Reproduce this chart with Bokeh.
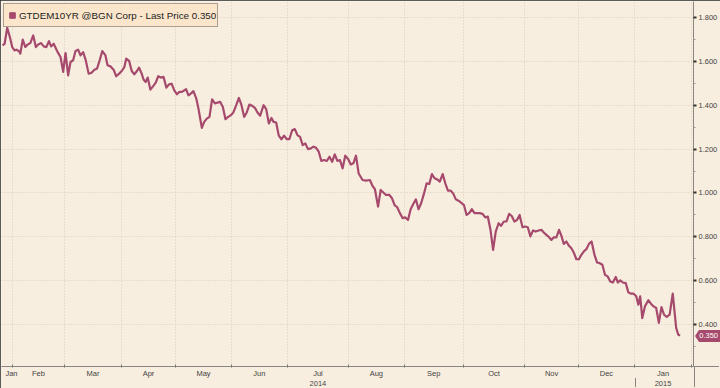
from bokeh.plotting import figure
from bokeh.layouts import column
from bokeh.models import (Range1d, FixedTicker, CustomJSTickFormatter, NumeralTickFormatter,
                          Legend, LegendItem, LinearAxis, Div)
from bokeh.embed import file_html
from bokeh.resources import INLINE

# ---------------- data ----------------
series_name = "GTDEM10YR @BGN Corp - Last Price 0.350"
last_price = 0.350

# trading-day position (0 = first session shown) and German 10Y yield
trade_day = [
    0.0, 0.8, 1.8, 2.8, 3.7, 4.6, 5.3, 6.2, 6.8, 7.7, 8.7, 9.6, 10.6, 11.7, 12.7, 13.6, 14.7, 15.7, 16.7, 17.7,
    18.5, 19.5, 20.2, 21.0, 22.1, 23.1, 24.0, 25.0, 25.9, 26.9, 27.8, 28.8, 29.7, 30.7, 31.7, 32.8, 33.8, 35.0, 36.0, 37.0,
    38.0, 39.2, 40.0, 41.1, 42.3, 43.3, 44.4, 45.4, 46.4, 47.1, 48.2, 49.2, 50.2, 51.2, 52.0, 53.0, 53.7, 54.5, 55.3, 56.3,
    57.3, 58.3, 59.3, 60.3, 61.3, 62.4, 63.4, 64.4, 65.4, 66.4, 67.4,
    68.3, 69.9, 70.8, 71.7, 72.7, 73.8, 74.6, 75.9, 76.8, 77.8, 78.8, 79.8, 80.9, 81.9, 82.9, 83.9, 84.9, 85.9, 87.0, 87.9,
    89.0, 90.0, 91.0, 92.0, 93.0, 94.0, 95.1, 96.1, 97.1, 98.1, 99.4, 100.4, 101.4, 102.4, 103.2, 104.2, 105.2, 106.2, 107.2, 108.3,
    109.2, 110.3, 111.3, 112.3, 113.3, 114.3, 115.3, 116.3, 117.4, 118.4, 119.4, 120.4, 121.4, 122.4, 123.5, 124.5, 125.5, 126.5, 127.5, 128.5,
    129.5, 130.5, 131.6, 132.6, 133.6, 134.6, 135.6,
    137.1, 138.4, 139.9, 140.9, 141.8, 143.0, 144.0, 145.0, 146.0, 147.3, 148.3, 149.3, 150.3, 151.3, 152.4, 153.3, 154.4, 155.4, 156.4, 157.4,
    158.4, 159.4, 160.5, 161.5, 162.5, 163.5, 164.5, 165.5, 166.5, 167.6, 168.6, 169.6, 170.6, 171.6, 172.6, 173.6, 174.6, 175.7, 176.7, 177.7,
    178.7, 179.7, 180.7, 181.7, 182.8, 183.8, 184.8, 185.8, 186.8, 187.8, 188.9, 189.8, 190.9, 191.9, 192.9, 193.9, 194.9, 195.9, 196.9, 198.0,
    199.0, 200.0, 201.0, 202.0, 203.0, 204.1,
    205.2, 206.1, 207.1, 208.1, 209.0, 209.9, 210.9, 211.9, 212.8, 213.7, 214.7, 215.7, 216.6, 217.5, 218.5, 219.5, 220.4, 221.3, 222.3, 223.3,
    224.3, 225.4, 226.4, 227.4, 228.4, 229.4, 230.4, 231.4, 232.4, 233.5, 234.3, 235.2, 236.2, 237.3, 238.3, 239.3, 240.3, 241.3, 242.1, 242.8,
    243.6, 244.6, 245.9, 246.9, 247.9, 248.9, 249.9, 250.9, 251.9, 252.9, 254.0, 255.2, 256.5, 257.3, 258.0,
]
yield_pct = [
    1.673, 1.680, 1.753, 1.711, 1.665, 1.650, 1.653, 1.647, 1.635, 1.699, 1.665, 1.677, 1.683, 1.718, 1.665, 1.677, 1.683, 1.668, 1.665, 1.692,
    1.668, 1.680, 1.662, 1.642, 1.620, 1.552, 1.638, 1.536, 1.597, 1.605, 1.647, 1.653, 1.627, 1.642, 1.605, 1.544, 1.547, 1.562, 1.567, 1.605,
    1.647, 1.627, 1.582, 1.577, 1.562, 1.532, 1.544, 1.556, 1.574, 1.612, 1.602, 1.556, 1.541, 1.556, 1.571, 1.544, 1.517, 1.506, 1.526, 1.471,
    1.486, 1.502, 1.532, 1.526, 1.529, 1.480, 1.495, 1.498, 1.468, 1.450, 1.461,
    1.461, 1.473, 1.445, 1.453, 1.464, 1.430, 1.385, 1.297, 1.324, 1.339, 1.347, 1.427, 1.408, 1.412, 1.415, 1.392, 1.336, 1.347, 1.355, 1.367,
    1.400, 1.433, 1.400, 1.347, 1.367, 1.403, 1.397, 1.388, 1.367, 1.352, 1.400, 1.382, 1.317, 1.342, 1.324, 1.321, 1.261, 1.245, 1.261, 1.245,
    1.245, 1.286, 1.291, 1.264, 1.256, 1.218, 1.226, 1.200, 1.203, 1.211, 1.206, 1.188, 1.146, 1.150, 1.146, 1.165, 1.142, 1.176, 1.146, 1.150,
    1.112, 1.170, 1.155, 1.130, 1.135, 1.170, 1.089,
    1.059, 1.056, 1.059, 1.032, 1.017, 0.938, 1.014, 1.002, 0.991, 0.991, 0.976, 0.945, 0.935, 0.908, 0.885, 0.889, 0.877, 0.926, 0.950, 0.971,
    0.926, 0.953, 0.998, 1.044, 1.041, 1.086, 1.067, 1.062, 1.052, 1.086, 1.044, 1.011, 1.011, 0.998, 0.971, 0.965, 0.956, 0.945, 0.900, 0.908,
    0.926, 0.908, 0.908, 0.908, 0.905, 0.889, 0.892, 0.832, 0.741, 0.824, 0.862, 0.850, 0.870, 0.870, 0.905, 0.895, 0.870, 0.877, 0.900, 0.844,
    0.847, 0.844, 0.802, 0.829, 0.824, 0.829,
    0.832, 0.820, 0.809, 0.798, 0.786, 0.798, 0.798, 0.832, 0.805, 0.768, 0.779, 0.759, 0.748, 0.729, 0.698, 0.698, 0.718, 0.733, 0.744, 0.768,
    0.779, 0.718, 0.683, 0.680, 0.673, 0.627, 0.620, 0.597, 0.592, 0.617, 0.592, 0.602, 0.592, 0.589, 0.547, 0.541, 0.541, 0.529, 0.491, 0.529,
    0.430, 0.483, 0.511, 0.495, 0.483, 0.476, 0.408, 0.480, 0.445, 0.435, 0.445, 0.541, 0.385, 0.354, 0.350,
]

# month boundaries (trading-day position of the 1st of Feb 2014 ... Feb 2015)
month_starts = [3.7, 23.7, 45.2, 66.0, 87.1, 108.5, 131.7, 153.0, 175.4, 198.9, 219.2, 240.7, 262.3]
month_names = ["Jan", "Feb", "Mar", "Apr", "May", "Jun", "Jul", "Aug", "Sep", "Oct", "Nov", "Dec", "Jan"]
first_month_label_pos = 3.4
year_labels = ["2014", "2015"]
year_label_month = [6, 12]          # index into month_names under which the year is written
year_break_month = 11               # index into month_starts (1 Jan 2015)

y_major = [0.4, 0.6, 0.8, 1.0, 1.2, 1.4, 1.6, 1.8]
y_minor = [0.3, 0.5, 0.7, 0.9, 1.1, 1.3, 1.5, 1.7]

# ---------------- style / layout ----------------
BG = "#F8EEDF"
LINE = "#A64A6D"
GRID = "#D9CCB8"
AX = "#8A8580"
TXT = "#444444"
FONT = "Liberation Sans"
W, H = 720, 388
F_LEFT, F_TOP, F_RIGHT, F_BOTTOM = 1, 1, 694, 367

x0, x1 = -0.38, 263.1
y0, y1 = 0.2091, 1.8727


def x_px(t):
    return F_LEFT + (t - x0) / (x1 - x0) * (F_RIGHT - F_LEFT)


def y_px(v):
    return F_TOP + (y1 - v) / (y1 - y0) * (F_BOTTOM - F_TOP)


label_pos = [first_month_label_pos] + [(a + b) / 2 for a, b in zip(month_starts[:-1], month_starts[1:])]
year_pos = [label_pos[i] for i in year_label_month]

LOOKUP = """
let best = 0, d = 1e9;
for (let i = 0; i < pos.length; i++) { const dd = Math.abs(pos[i] - tick); if (dd < d) { d = dd; best = i; } }
return names[best];
"""

p = figure(width=W, height=H, x_range=Range1d(x0, x1), y_range=Range1d(y0, y1),
           y_axis_location="right", output_backend="svg", toolbar_location=None,
           min_border_left=F_LEFT, min_border_top=F_TOP, min_border_right=W - F_RIGHT,
           min_border_bottom=H - F_BOTTOM,
           background_fill_color=BG, border_fill_color=BG, outline_line_color=None)
p.styles = {"outline": "1px solid #2a2a2a", "outline-offset": "-1px"}

# grids
p.xgrid.ticker = FixedTicker(ticks=month_starts)
p.ygrid.ticker = FixedTicker(ticks=y_major)
for g in (p.xgrid[0], p.ygrid[0]):
    g.grid_line_color = GRID
    g.grid_line_dash = "1 2"
    g.grid_line_width = 1

# bottom axis: month names centred in each month, ticks at month boundaries
xa = p.xaxis[0]
xa.ticker = FixedTicker(ticks=label_pos, minor_ticks=month_starts)
xa.formatter = CustomJSTickFormatter(args=dict(pos=label_pos, names=month_names), code=LOOKUP)
xa.major_tick_in = 0
xa.major_tick_out = 0
xa.minor_tick_in = 2
xa.minor_tick_out = 1
xa.minor_tick_line_color = "#777777"
xa.axis_line_color = AX
xa.major_label_text_font = FONT
xa.major_label_text_font_size = "7.5px"
xa.major_label_text_color = TXT
xa.major_label_standoff = 1

# second row: years
xa2 = LinearAxis(ticker=FixedTicker(ticks=year_pos, minor_ticks=[]),
                 formatter=CustomJSTickFormatter(args=dict(pos=year_pos, names=year_labels), code=LOOKUP),
                 axis_line_color=None, major_tick_line_color=None, minor_tick_line_color=None,
                 major_tick_in=0, major_tick_out=0, minor_tick_in=0, minor_tick_out=0,
                 major_label_standoff=0, major_label_text_font=FONT,
                 major_label_text_font_size="7.5px", major_label_text_color=TXT)
p.add_layout(xa2, "below")

# right axis
ya = p.yaxis[0]
ya.ticker = FixedTicker(ticks=y_major, minor_ticks=y_minor)
ya.formatter = NumeralTickFormatter(format="0.000")
ya.major_tick_in = 0
ya.major_tick_out = 3
ya.major_tick_line_width = 2
ya.major_tick_line_color = "#333333"
ya.minor_tick_in = 0
ya.minor_tick_out = 2
ya.minor_tick_line_color = "#999999"
ya.axis_line_color = AX
ya.major_label_text_font = FONT
ya.major_label_text_font_size = "7.5px"
ya.major_label_text_color = TXT
ya.major_label_standoff = 2

# series
p.line(trade_day, yield_pct, line_color=LINE, line_width=2.2, line_join="round")

# legend box (square swatch comes from an off-range marker renderer)
sq = p.scatter([x0 - 50], [y0 - 5], marker="square", color=LINE, size=6)
legend = Legend(items=[LegendItem(label=series_name, renderers=[sq])], location="top_left",
                margin=2, padding=1, spacing=0, glyph_width=14, glyph_height=20, label_height=20,
                label_standoff=0, label_text_font=FONT, label_text_font_size="9.8px",
                label_text_color="#222222", label_text_baseline="middle",
                background_fill_color="#FBE6CB", background_fill_alpha=1.0,
                border_line_color="#5a5a5a", border_line_width=1)
p.add_layout(legend)


def overlay(text, left, top, width, height, extra=None):
    st = {"position": "absolute", "left": f"{left:.0f}px", "top": f"{top:.0f}px",
          "width": f"{width:.0f}px", "height": f"{height:.0f}px", "margin": "0", "padding": "0",
          "overflow": "hidden"}
    if extra:
        st.update(extra)
    return Div(text=text, width=int(width), height=int(height), styles=st)


# last-price tag on the right axis
tag_top = y_px(last_price) - 6
tag = overlay(f"{last_price:.3f}", F_RIGHT + 1, tag_top, W - F_RIGHT - 1, 12, {
    "background-color": LINE, "color": "white", "font-family": FONT, "font-size": "7.5px",
    "line-height": "12px", "text-align": "right", "padding-right": "2px",
    "clip-path": "polygon(0 50%, 4px 0, 100% 0, 100% 100%, 4px 100%)", "box-sizing": "border-box"})

# year divider and axis extensions outside the frame
divider = overlay("", x_px(month_starts[year_break_month]), F_BOTTOM + 11, 1, H - F_BOTTOM - 12,
                  {"background-color": AX})
right_ext = overlay("", F_RIGHT, F_BOTTOM, 1, H - F_BOTTOM - 1, {"background-color": AX})
bottom_ext = overlay("", F_RIGHT, F_BOTTOM - 1, W - F_RIGHT - 1, 1, {"background-color": AX})

layout = column(p, tag, divider, right_ext, bottom_ext)
open("out.html", "w").write(file_html(layout, INLINE))
